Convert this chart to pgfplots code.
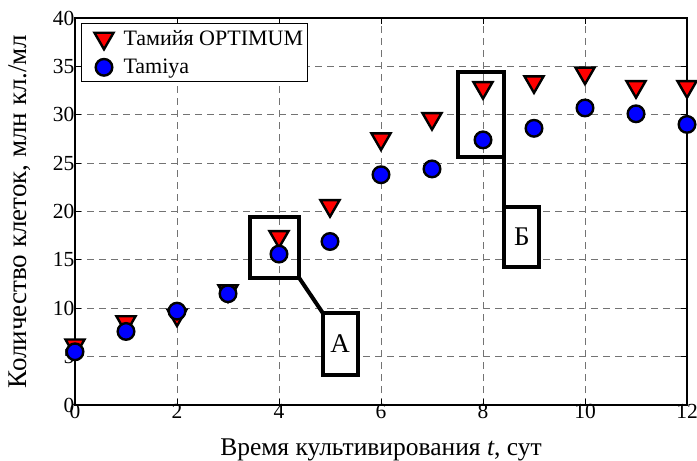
\documentclass[border=0pt]{standalone}
\usepackage{pgfplots}
\pgfplotsset{compat=1.18}
\usepackage{fontspec}
\setmainfont{Liberation Serif}
\begin{document}
\begin{tikzpicture}
\begin{axis}[
  scale only axis,
  width=612pt, height=387pt,
  xmin=0, xmax=12, ymin=0, ymax=40,
  xtick={0,2,...,12}, ytick={0,5,...,40},
  tick align=inside,
  major tick length=6pt,
  every tick/.style={black, line width=0.8pt},
  axis line style={line width=1.2pt},
  grid=major,
  major grid style={gray!90!black, line width=0.8pt, dash pattern=on 7pt off 5pt},
  tick label style={font=\fontsize{21.5}{24}\selectfont},
  /pgf/number format/assume math mode=true,
  xticklabel style={yshift=4pt},
  yticklabel style={xshift=3pt},
  xlabel={Время культивирования \textit{t}, сут},
  ylabel={Количество клеток, млн кл./мл},
  xlabel style={font=\fontsize{25.5}{28}\selectfont,
    at={([yshift=-50pt]axis description cs:0.5,0)}, anchor=base},
  ylabel style={font=\fontsize{27}{30}\selectfont,
    at={([xshift=-48pt]axis description cs:0,0.5)}, anchor=base},
  legend style={at={([xshift=6pt,yshift=-5pt]axis description cs:0,1)},
    anchor=north west, draw=black, line width=1pt,
    font=\fontsize{22}{25}\selectfont, inner xsep=2pt, inner ysep=4.5pt,
    row sep=8pt},
  legend image code/.code={%
    \path (0pt,0pt) (37pt,0pt);
    \draw[mark repeat=2, mark phase=2, #1]
      plot coordinates {(0pt,0pt) (20pt,0pt) (37pt,0pt)};},
  legend cell align=left,
  clip=false,
]
\addplot[only marks, mark=triangle*, mark size=11pt,
  mark options={rotate=180, fill=red, draw=black, line width=2.4pt}]
  coordinates {(0,6.2) (1,8.6) (2,9.3) (3,11.8) (4,17.4) (5,20.6) (6,27.5)
    (7,29.6) (8,32.8) (9,33.4) (10,34.3) (11,32.9) (12,32.9)};
\addlegendentry{Тамийя OPTIMUM}
\addplot[only marks, mark=*, mark size=8.3pt,
  mark options={fill=blue, draw=black, line width=2.4pt}]
  coordinates {(0,5.5) (1,7.6) (2,9.7) (3,11.5) (4,15.6) (5,16.9) (6,23.8)
    (7,24.4) (8,27.4) (9,28.6) (10,30.7) (11,30.1) (12,29.0)};
\addlegendentry{Tamiya}
% callout A
\draw[line width=4pt] (axis cs:3.43,19.4) rectangle (axis cs:4.4,13.1);
\draw[line width=4pt] (axis cs:4.4,13.1) -- (axis cs:4.86,9.5);
\draw[line width=4pt, fill=white] (axis cs:4.86,9.5) rectangle (axis cs:5.54,3.1)
  node[midway, font=\fontsize{27}{30}\selectfont] {А};
% callout B
\draw[line width=4pt] (axis cs:7.5,34.4) rectangle (axis cs:8.42,25.6);
\draw[line width=4pt] (axis cs:8.42,25.6) -- (axis cs:8.42,20.5);
\draw[line width=4pt, fill=white] (axis cs:8.42,20.5) rectangle (axis cs:9.1,14.3)
  node[midway, font=\fontsize{27}{30}\selectfont] {Б};
\end{axis}
\pgfresetboundingbox
\path ([shift={(-75pt,-55pt)}]current axis.south west)
  rectangle ([shift={(10pt,18pt)}]current axis.north east);
\end{tikzpicture}
\end{document}
